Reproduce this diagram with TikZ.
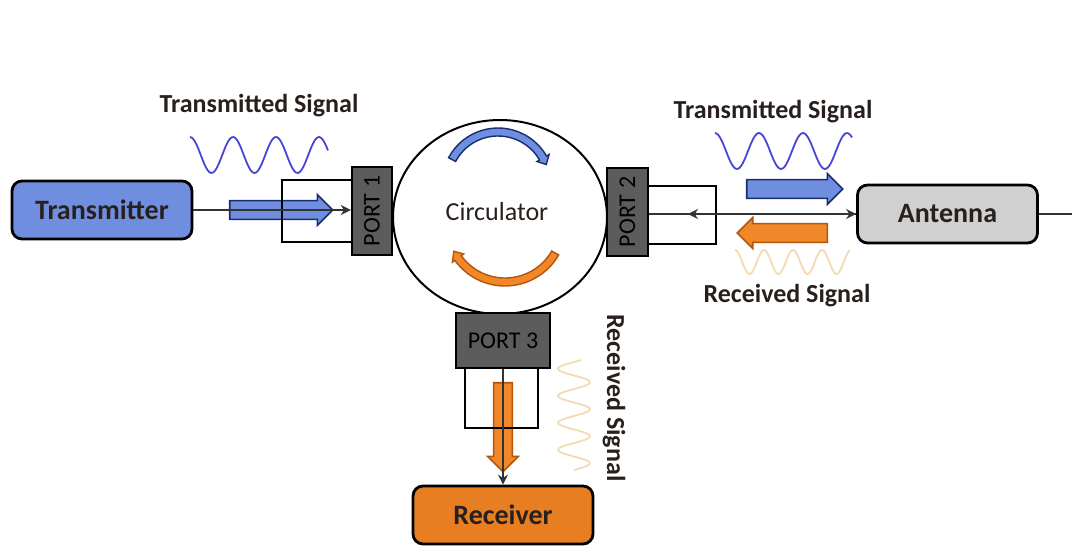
\documentclass[tikz,border=0pt]{standalone}
\usepackage{fontspec}
\setmainfont{Carlito}
\usetikzlibrary{arrows.meta,shapes.arrows}

\definecolor{txblue}{RGB}{112,142,224}
\definecolor{navyedge}{RGB}{25,45,110}
\definecolor{wavecol}{RGB}{70,70,215}
\definecolor{orfill}{RGB}{240,135,40}
\definecolor{oredge}{RGB}{180,85,10}
\definecolor{rxorange}{RGB}{232,126,34}
\definecolor{antgray}{RGB}{208,208,208}
\definecolor{portgray}{RGB}{92,92,92}
\definecolor{palewave}{RGB}{244,218,178}
\definecolor{inkdark}{RGB}{40,32,28}

\begin{document}
\begin{tikzpicture}[x=0.5pt, y=0.5pt,
    unitbox/.style={draw=black, line width=1.4pt, rounded corners=5pt,
        minimum width=90pt, minimum height=29pt, text=inkdark,
        font=\fontsize{14}{16}\selectfont\bfseries},
    portbox/.style={draw=black, line width=1.2pt, fill=portgray, inner sep=0pt,
        text=black, font=\fontsize{12}{14}\selectfont},
    sidebox/.style={line width=1pt, black},
    conn/.style={line width=1pt, black!80},
    tip/.style={-{Stealth[length=5pt, width=5pt]}},
    fatarrow/.style={single arrow, draw, line width=0.8pt, inner sep=4.3pt,
        minimum width=15pt, single arrow head extend=3pt},
    sig/.style={text=inkdark, font=\fontsize{13}{15}\selectfont\bfseries},
    wave/.style={line width=0.9pt, smooth}]

    % 全体の大きさ
    \useasboundingbox (0,0) rectangle (1072,-546);

    % 座標の定義
    \coordinate (cc) at (500,-217);
    \coordinate (cb) at (498,-184);
    \coordinate (co) at (505,-224);
    \coordinate (m2) at (688,-214);
    \coordinate (rim) at (1072,0);

    % サーキュレータ本体
    \draw [line width=1pt] (cc) ellipse [x radius=107, y radius=97];
    \filldraw [fill=txblue, draw=navyedge, line width=0.7pt]
        ([shift={(152:56)}]cb) arc [start angle=152, end angle=30, radius=56]
        -- ([shift={(30:59)}]cb) -- ([shift={(22:52)}]cb) -- ([shift={(30:45)}]cb)
        -- ([shift={(30:48)}]cb) arc [start angle=30, end angle=152, radius=48] -- cycle;
    \filldraw [fill=orfill, draw=oredge, line width=0.7pt]
        ([shift={(-30:62)}]co) arc [start angle=-30, end angle=-144, radius=62]
        -- ([shift={(-144:65)}]co) -- ([shift={(-152:58)}]co) -- ([shift={(-144:51)}]co)
        -- ([shift={(-144:54)}]co) arc [start angle=-144, end angle=-30, radius=54] -- cycle;
    \node [text=inkdark, font=\fontsize{13}{15}\selectfont] (circ) at (497,-212) {Circulator};

    % ポート
    \node [portbox, minimum width=20pt, minimum height=44pt] (p1) at (372,-211) {\rotatebox{90}{PORT 1}};
    \node [portbox, minimum width=20.5pt, minimum height=44pt] (p2) at (627.5,-212) {\rotatebox{90}{PORT 2}};
    \node [portbox, minimum width=47pt, minimum height=27.5pt] (p3) at (503,-340.5) {PORT 3};

    % 機器
    \node [unitbox, fill=txblue] (tx) at (102,-210) {Transmitter};
    \node [unitbox, fill=antgray] (ant) at (947.5,-214) {Antenna};
    \node [unitbox, fill=rxorange] (rx) at (503,-515) {Receiver};

    % 太い矢印
    \node [fatarrow, fill=txblue, draw=navyedge, minimum height=51.5pt] (a1) at (276.5,-210) {};
    \node [fatarrow, fill=txblue, draw=navyedge, minimum height=48pt] (a2) at (790,-189) {};
    \node [fatarrow, fill=orfill, draw=oredge, minimum height=45pt,
        shape border rotate=180] (a3) at (787,-233) {};
    \node [fatarrow, fill=orfill, draw=oredge, minimum height=44.5pt,
        shape border rotate=270] (a4) at (503,-422.5) {};

    % ポート横の枠
    \draw [sidebox] (352,-180) -| (282,-242) -- (352,-242);
    \draw [sidebox] (648,-186) -| (716,-244) -- (648,-244);
    \draw [sidebox] (465,-368) |- (538,-428) -- (538,-368);

    % 接続線
    \draw [conn, tip] (tx.east) -- (tx.east -| p1.west);
    \draw [conn, tip] (p2.east |- ant.west) -- (ant.west);
    \draw [conn, tip] (ant.west) -- (m2);
    \draw [conn] (ant.east) -- (ant.east -| rim);
    \draw [conn, tip] (p3.south) -- (rx.north);

    % 信号の波形
    \draw [wave, wavecol] plot [domain=190:328, samples=80] (\x, {-155+18*cos((\x-190)/43*360)});
    \draw [wave, wavecol] plot [domain=715:852, samples=80] (\x, {-151+18*cos((\x-715)/44*360)});
    \draw [wave, palewave] plot [domain=735:850, samples=80] (\x, {-262+12*cos((\x-735)/29*360)});
    \draw [wave, palewave] plot [domain=-470:-360, samples=80] ({574+16*sin((\x+470)/27*360)}, \x);

    % ラベル
    \node [sig] (lt1) at (259,-106) {Transmitted Signal};
    \node [sig] (lt2) at (773,-112) {Transmitted Signal};
    \node [sig] (lr1) at (787,-296) {Received Signal};
    \node [sig, rotate=-90] (lr2) at (614,-398) {Received Signal};

\end{tikzpicture}
\end{document}
